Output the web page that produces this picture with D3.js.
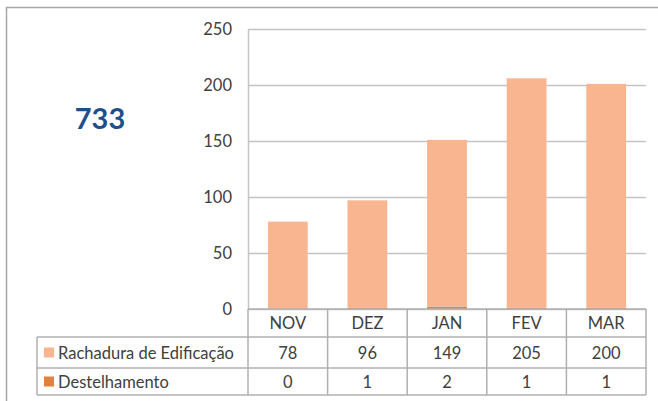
<!DOCTYPE html>
<html>
<head>
<meta charset="utf-8">
<script src="https://cdn.jsdelivr.net/npm/d3@7"></script>
<style>
  body { margin: 0; background: #fff; }
  text { font-family: Lato, "Open Sans", sans-serif; fill: #404040; }
</style>
</head>
<body>
<script>
// data
var months = ["NOV", "DEZ", "JAN", "FEV", "MAR"];
var rachadura = [78, 96, 149, 205, 200];
var destelhamento = [0, 1, 2, 1, 1];
var seriesNames = ["Rachadura de Edificação", "Destelhamento"];
var yTicks = [0, 50, 100, 150, 200, 250];
var total = "733";

var w = 658, h = 401;
var colors = {"Rachadura de Edificação": "#F8B590", "Destelhamento": "#E0823D"};
var fs = "16.5px";

var svg = d3.select("body").append("svg")
    .attr("width", w)
    .attr("height", h);

// outer frame
svg.append("rect")
    .attr("x", 6.5).attr("y", 7.5)
    .attr("width", 700).attr("height", 420)
    .style("fill", "none")
    .style("stroke", "#a6a6a6")
    .style("stroke-width", 1.5);

var plotLeft = 248, plotRight = 646, plotTop = 29, plotBottom = 309;

var x = d3.scaleBand().domain(months).range([plotLeft, plotRight]).paddingInner(0).paddingOuter(0);
var y = d3.scaleLinear().domain([0, 250]).range([plotBottom, plotTop]);

// gridlines
svg.append("g").selectAll("line")
    .data(yTicks)
    .enter().append("line")
    .attr("x1", plotLeft).attr("x2", plotRight)
    .attr("y1", function(d){ return y(d) + 0.5; })
    .attr("y2", function(d){ return y(d) + 0.5; })
    .style("stroke", "#c4c4c4")
    .style("stroke-width", 1.5);

// y axis
var yAxis = svg.append("g")
    .attr("transform", "translate(" + plotLeft + ",0)")
    .call(d3.axisLeft(y).tickValues(yTicks).tickSize(0).tickPadding(16));
yAxis.select(".domain").style("stroke", "#c4c4c4").style("stroke-width", 1.5);
yAxis.selectAll("text").style("font-size", fs).style("fill", "#404040").style("font-family", "Lato, sans-serif");

// stacked bars
var rows = months.map(function(m, i){
    return {month: m, "Destelhamento": destelhamento[i], "Rachadura de Edificação": rachadura[i]};
});
var stack = d3.stack().keys(["Destelhamento", "Rachadura de Edificação"])(rows);
var barW = x.bandwidth() * 0.5;

svg.append("g").selectAll("g")
    .data(stack)
    .enter().append("g")
    .style("fill", function(d){ return colors[d.key]; })
    .selectAll("rect")
    .data(function(d){ return d; })
    .enter().append("rect")
    .attr("x", function(d){ return x(d.data.month) + (x.bandwidth() - barW) / 2; })
    .attr("width", barW)
    .attr("y", function(d){ return y(d[1]); })
    .attr("height", function(d){ return y(d[0]) - y(d[1]); });

// data table
var tableLeft = 37, rowY = [309, 337, 368, 395];
var grid = svg.append("g").style("stroke", "#b0b0b0").style("stroke-width", 1.5);

// horizontal lines
grid.append("line").attr("x1", plotLeft).attr("x2", plotRight).attr("y1", rowY[0]).attr("y2", rowY[0]);
[1, 2, 3].forEach(function(r){
    grid.append("line").attr("x1", tableLeft).attr("x2", plotRight).attr("y1", rowY[r]).attr("y2", rowY[r]);
});
// vertical lines
grid.append("line").attr("x1", tableLeft).attr("x2", tableLeft).attr("y1", rowY[1]).attr("y2", rowY[3]);
months.forEach(function(m){
    grid.append("line").attr("x1", x(m)).attr("x2", x(m)).attr("y1", rowY[0]).attr("y2", rowY[3]);
});
grid.append("line").attr("x1", plotRight).attr("x2", plotRight).attr("y1", rowY[0]).attr("y2", rowY[3]);

// header labels
svg.append("g").selectAll("text")
    .data(months)
    .enter().append("text")
    .attr("x", function(d){ return x(d) + x.bandwidth() / 2; })
    .attr("y", (rowY[0] + rowY[1]) / 2 + 6)
    .attr("text-anchor", "middle")
    .style("font-size", fs)
    .text(function(d){ return d; });

// series rows
var seriesVals = [rachadura, destelhamento];
seriesNames.forEach(function(name, r){
    var cy = (rowY[r + 1] + rowY[r + 2]) / 2;
    svg.append("rect")
        .attr("x", 44).attr("y", cy - 5)
        .attr("width", 10).attr("height", 10)
        .style("fill", colors[name]);
    svg.append("text")
        .attr("x", 58).attr("y", cy + 6)
        .style("font-size", fs)
        .text(name);
    svg.append("g").selectAll("text")
        .data(seriesVals[r])
        .enter().append("text")
        .attr("x", function(d, i){ return x(months[i]) + x.bandwidth() / 2; })
        .attr("y", cy + 6)
        .attr("text-anchor", "middle")
        .style("font-size", fs)
        .text(function(d){ return d; });
});

// big total
svg.append("text")
    .attr("x", 100).attr("y", 129)
    .attr("text-anchor", "middle")
    .style("font-size", "29px")
    .style("font-weight", "bold")
    .style("fill", "#1F4E8C")
    .text(total);
</script>
</body>
</html>
